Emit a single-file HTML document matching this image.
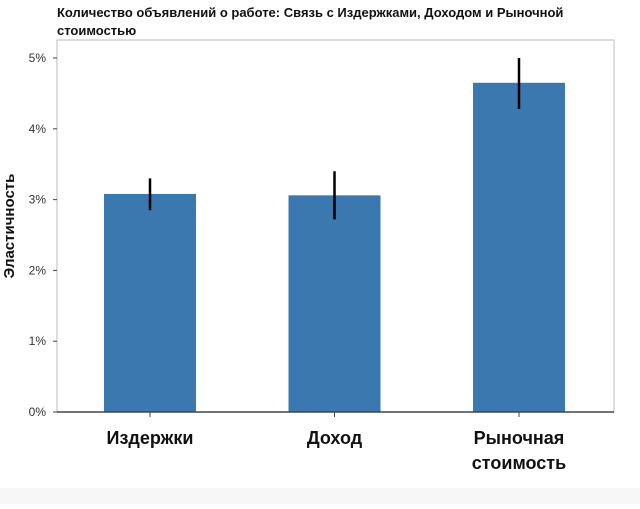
<!DOCTYPE html>
<html><head><meta charset="utf-8"><style>
body{margin:0;background:#fff;font-family:"Liberation Sans","Noto Sans CJK SC",sans-serif}
</style></head><body>
<svg width="640" height="504" xmlns="http://www.w3.org/2000/svg">
<rect x="0" y="488" width="640" height="16" fill="#f7f7f7"/>
<text x="57" y="17" font-size="13" font-weight="bold" fill="#111">Количество объявлений о работе: Связь с Издержками, Доходом и Рыночной</text>
<text x="57" y="35" font-size="13" font-weight="bold" fill="#111">стоимостью</text>
<rect x="57" y="40" width="557" height="372" fill="none" stroke="#bbb"/>
<text transform="translate(14,226) rotate(-90)" text-anchor="middle" font-size="15" font-weight="bold" fill="#111">Эластичность</text>
<g id="yaxis"></g><g id="bars"></g><g id="xaxis"></g>
<line x1="57" y1="412" x2="614" y2="412" stroke="#444" stroke-width="1.5"/>
<script>
const categories=[["Издержки"],["Доход"],["Рыночная","стоимость"]];
const values=[3.08,3.06,4.65];
const errLow=[2.85,2.72,4.28];
const errHigh=[3.3,3.4,5.0];
const yTicks=[0,1,2,3,4,5];
const NS="http://www.w3.org/2000/svg";
const y0=412,pxPer=70.8;
function y(v){return y0-v*pxPer;}
function x(i){return 150+i*184.5;}
const bw=92;
function mk(t,a,p){const e=document.createElementNS(NS,t);for(const k in a)e.setAttribute(k,a[k]);p.appendChild(e);return e;}
const ya=document.getElementById('yaxis');
yTicks.forEach(t=>{
 const l=mk('line',{x1:53,x2:57,y1:y(t),y2:y(t),stroke:'#444'},ya);
 
 
 const tx=mk('text',{x:46,y:y(t)+4,'text-anchor':'end','font-size':12,fill:'#333'},ya);
 tx.textContent=t+'%';
 
 
});
const bg=document.getElementById('bars'),xa=document.getElementById('xaxis');
values.forEach((v,i)=>{
 const r=mk('rect',{x:x(i)-bw/2,y:y(v),width:bw,height:y0-y(v),fill:'#3b78b0'},bg);
 
 
 const e=mk('line',{x1:x(i),x2:x(i),y1:y(errHigh[i]),y2:y(errLow[i]),stroke:'#000','stroke-width':2.5},bg);
 
 
 const tk=mk('line',{x1:x(i),x2:x(i),y1:412,y2:417,stroke:'#444'},xa);
 
 
 categories[i].forEach((s,j)=>{
  const t=mk('text',{x:x(i),y:444+j*25,'text-anchor':'middle','font-size':18,'font-weight':'bold',fill:'#111'},xa);
  t.textContent=s;
  
  
 });
});
</script>
</svg>
</body></html>
